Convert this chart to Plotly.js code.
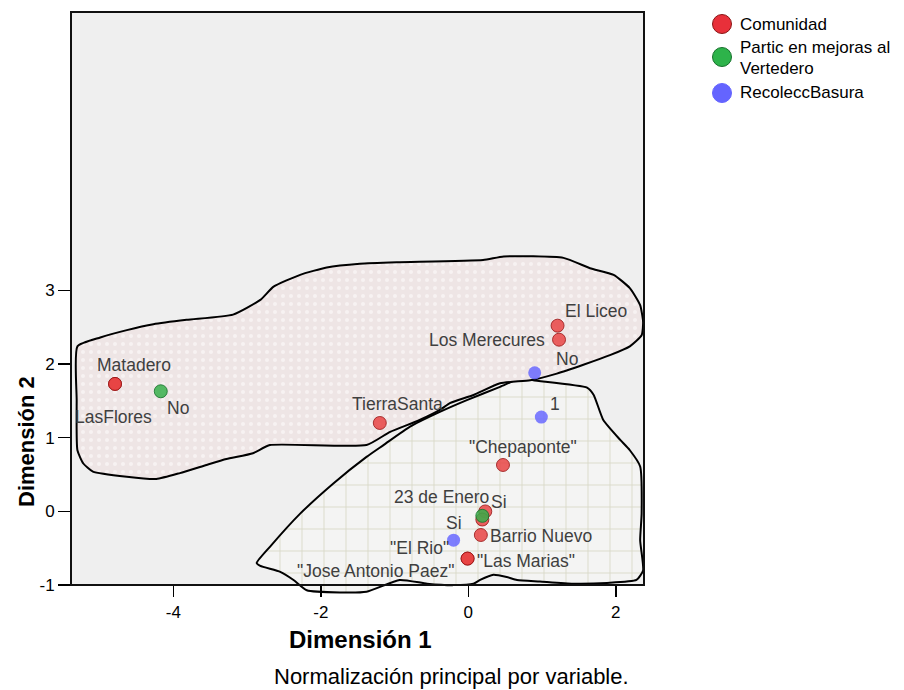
<!DOCTYPE html>
<html>
<head>
<meta charset="utf-8">
<script src="https://cdn.plot.ly/plotly-3.0.1.min.js"></script>
<style>html,body{margin:0;padding:0;background:#fff;}#chart{width:904px;height:690px;}</style>
</head>
<body>
<div id="chart"></div>
<script>
// ---- data ----
const comunidadNames = ['Matadero','LasFlores','TierraSanta','El Liceo','Los Merecures','"Chepaponte"','23 de Enero','"El Rio"','Barrio Nuevo','"Las Marias"','"Jose Antonio Paez"'];
const comunidadX = [-4.79, -4.79, -1.20, 1.21, 1.23, 0.47, 0.23, 0.19, 0.17, -0.01, -0.01];
const comunidadY = [1.73, 1.73, 1.20, 2.52, 2.33, 0.63, 0.00, -0.11, -0.32, -0.64, -0.64];

const particNames = ['No','Si'];
const particX = [-4.17, 0.19];
const particY = [1.63, -0.06];

const recolNames = ['No','1','Si'];
const recolX = [0.90, 0.99, -0.20];
const recolY = [1.88, 1.28, -0.39];

const seriesNames = ['Comunidad','Partic en mejoras al<br>Vertedero','RecoleccBasura'];

const xTicks = [-4, -2, 0, 2];
const yTicks = [-1, 0, 1, 2, 3];

// group hulls (data coordinates)
const hull1X = [-5.30,-4.99,-4.63,-4.27,-3.82,-3.19,-2.82,-2.64,-2.28,-1.92,-1.47,-0.97,0.20,0.48,1.29,1.65,1.97,2.19,2.33,2.37,2.35,2.19,1.92,1.56,1.20,0.84,0.43,0.07,-0.25,-0.38,-0.66,-1.06,-1.38,-2.69,-2.92,-3.28,-3.55,-3.91,-4.23,-4.63,-5.09,-5.22,-5.30,-5.31,-5.30];
const hull1Y = [2.24,2.36,2.46,2.54,2.60,2.67,2.87,3.05,3.21,3.31,3.36,3.38,3.41,3.46,3.44,3.30,3.21,3.03,2.80,2.57,2.39,2.24,2.12,1.99,1.87,1.78,1.74,1.58,1.47,1.38,1.24,1.08,0.90,0.90,0.79,0.71,0.63,0.52,0.44,0.47,0.54,0.65,0.83,1.51,2.24];
const hull2X = [-2.87,-2.69,-2.28,-1.83,-1.38,-1.15,-0.79,-0.43,-0.02,0.43,0.72,0.88,1.61,1.70,1.83,2.06,2.19,2.33,2.35,2.33,2.37,2.28,1.88,1.42,0.97,0.66,0.52,0.34,0.16,0.07,-0.20,-0.56,-0.93,-1.38,-1.74,-2.19,-2.37,-2.55,-2.82,-2.87];
const hull2Y = [-0.70,-0.48,-0.03,0.38,0.74,0.90,1.15,1.33,1.51,1.69,1.81,1.78,1.68,1.58,1.24,0.97,0.83,0.61,-0.03,-0.39,-0.80,-0.93,-0.97,-0.98,-0.95,-0.93,-0.89,-0.86,-0.93,-0.98,-1.00,-0.98,-0.93,-1.09,-1.10,-1.07,-0.93,-0.82,-0.74,-0.70];

// ---- label placement (pixel offsets, right / down) ----
const comunidadOffsets = [[19,-19],[-2,33],[18,-19],[38,-15],[-72,0],[20,-18],[-44,-14],[-63,28],[60,1],[58,2],[-92,12]];
const particOffsets = [[17,17],[17,-14]];
const recolOffsets = [[32,-14],[14,-13],[0,-17]];

// ---- geometry / style ----
const W = 904, H = 690;
const M = {l: 71, r: 260, t: 12, b: 95};
const PW = W - M.l - M.r, PH = H - M.t - M.b;
const xRange = [-5.387, 2.382];
const yRange = [-1.134, 6.776];
const yFloor = -1;
const FONT = '"Liberation Sans", Arial, sans-serif';
const red = 'rgba(232,62,62,0.82)', redLine = 'rgba(150,20,20,0.8)';
const green = 'rgba(55,175,75,0.85)', greenLine = 'rgba(25,115,45,0.85)';
const blue = 'rgba(105,105,255,0.85)';

const px2x = p => (p - M.l) / PW;
const px2y = p => (H - M.b - p) / PH;
const yFrac = v => (v - yRange[0]) / (yRange[1] - yRange[0]);

const traces = [
  {x: hull2X, y: hull2Y, type: 'scatter', mode: 'lines', fill: 'toself',
   line: {color: '#000', width: 2, shape: 'spline', smoothing: 0.5},
   fillcolor: '#f4f4f4',
   fillpattern: {shape: '+', bgcolor: '#f4f4f3', fgcolor: '#d9d9c8', size: 22, solidity: 0.08},
   hoverinfo: 'skip', showlegend: false},
  {x: hull1X, y: hull1Y, type: 'scatter', mode: 'lines', fill: 'toself',
   line: {color: '#000', width: 2, shape: 'spline', smoothing: 0.5},
   fillcolor: '#efe6e6',
   fillpattern: {shape: '.', bgcolor: '#eee5e5', fgcolor: '#f7f2f2', size: 8, solidity: 0.22},
   hoverinfo: 'skip', showlegend: false},
  {x: comunidadX, y: comunidadY, text: comunidadNames, type: 'scatter', mode: 'markers', name: seriesNames[0],
   marker: {size: 13, color: red, line: {color: redLine, width: 1}}, showlegend: false},
  {x: particX, y: particY, text: particNames, type: 'scatter', mode: 'markers', name: seriesNames[1],
   marker: {size: 13, color: green, line: {color: greenLine, width: 1}}, showlegend: false},
  {x: recolX, y: recolY, text: recolNames, type: 'scatter', mode: 'markers', name: seriesNames[2],
   marker: {size: 13, color: blue, line: {width: 0}}, showlegend: false}
];

const annotations = [];
function addLabels(names, xs, ys, offs) {
  names.forEach((n, i) => {
    annotations.push({x: xs[i], y: ys[i], xref: 'x', yref: 'y', text: n, showarrow: false,
      xshift: offs[i][0], yshift: -offs[i][1], xanchor: 'center', yanchor: 'middle',
      font: {family: FONT, size: 17.5, color: '#3f3f3f'}});
  });
}
addLabels(comunidadNames, comunidadX, comunidadY, comunidadOffsets);
addLabels(particNames, particX, particY, particOffsets);
addLabels(recolNames, recolX, recolY, recolOffsets);

// axis titles and note
annotations.push({xref: 'paper', yref: 'paper', x: px2x(360), y: px2y(640), text: '<b>Dimensión 1</b>',
  showarrow: false, xanchor: 'center', yanchor: 'middle', font: {family: FONT, size: 24, color: '#000'}});
annotations.push({xref: 'paper', yref: 'paper', x: px2x(26), y: px2y(442), text: '<b>Dimensión 2</b>', textangle: -90,
  showarrow: false, xanchor: 'center', yanchor: 'middle', font: {family: FONT, size: 22, color: '#000'}});
annotations.push({xref: 'paper', yref: 'paper', x: px2x(451), y: px2y(676), text: 'Normalización principal por variable.',
  showarrow: false, xanchor: 'center', yanchor: 'middle', font: {family: FONT, size: 22, color: '#000'}});

// manual legend
const legendRows = [{cy: 24, ty: [24]}, {cy: 57, ty: [48, 68]}, {cy: 93, ty: [93]}];
const legendFill = ['#e8303a', '#2db34a', '#6464ff'];
const legendLine = ['#8a1515', '#17702c', '#6464ff'];
const shapes = [
  {type: 'rect', xref: 'paper', yref: 'paper', x0: 0, x1: 1, y0: yFrac(yFloor), y1: 1,
   fillcolor: '#efefef', line: {width: 0}, layer: 'below'},
  {type: 'rect', xref: 'paper', yref: 'paper', x0: 0, x1: 1, y0: yFrac(yFloor), y1: 1,
   fillcolor: 'rgba(0,0,0,0)', line: {color: '#111', width: 2}, layer: 'above'}
];
legendRows.forEach((r, i) => {
  const cx = 722, rad = 9.5;
  shapes.push({type: 'circle', xref: 'paper', yref: 'paper', x0: px2x(cx - rad), x1: px2x(cx + rad),
    y0: px2y(r.cy + rad), y1: px2y(r.cy - rad), fillcolor: legendFill[i],
    line: {color: legendLine[i], width: 1}, layer: 'above'});
  const lines = seriesNames[i].split('<br>');
  lines.forEach((t, j) => {
    annotations.push({xref: 'paper', yref: 'paper', x: px2x(738), y: px2y(r.ty[j]), text: t, showarrow: false,
      xanchor: 'left', yanchor: 'middle', font: {family: FONT, size: 17, color: '#000'}});
  });
});

const layout = {
  width: W, height: H, margin: M,
  paper_bgcolor: '#ffffff', plot_bgcolor: 'rgba(0,0,0,0)',
  showlegend: false,
  font: {family: FONT, size: 17, color: '#000'},
  xaxis: {range: xRange, tickvals: xTicks, ticktext: xTicks.map(String), ticks: 'outside', ticklen: 11,
    tickwidth: 1.5, tickcolor: '#000', showgrid: false, zeroline: false, showline: false,
    anchor: 'free', position: yFrac(yFloor), tickfont: {family: FONT, size: 17, color: '#000'}},
  yaxis: {range: yRange, tickvals: yTicks, ticktext: yTicks.map(String), ticks: 'outside', ticklen: 12,
    tickwidth: 1.5, tickcolor: '#000', showgrid: false, zeroline: false, showline: false,
    tickfont: {family: FONT, size: 17, color: '#000'}},
  shapes: shapes,
  annotations: annotations
};

Plotly.newPlot('chart', traces, layout, {displayModeBar: false, staticPlot: true});
</script>
</body>
</html>
